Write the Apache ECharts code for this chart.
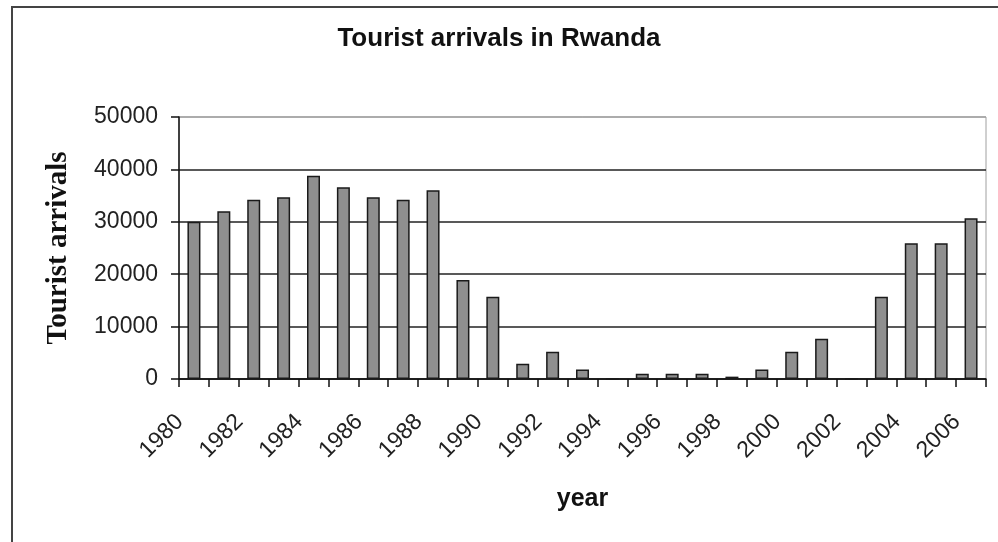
<!DOCTYPE html>
<html>
<head>
<meta charset="utf-8">
<script src="https://cdn.jsdelivr.net/npm/echarts@6/dist/echarts.min.js"></script>
<style>
  html, body { margin: 0; padding: 0; background: #fff; }
  #chart { width: 998px; height: 542px; }
</style>
</head>
<body>
<div id="chart"></div>
<script>
// data
const years = [
  "1980", "1981", "1982", "1983", "1984", "1985", "1986", "1987", "1988",
  "1989", "1990", "1991", "1992", "1993", "1994", "1995", "1996", "1997",
  "1998", "1999", "2000", "2001", "2002", "2003", "2004", "2005", "2006"
];
const arrivals = [
  30000, 32000, 34200, 34700, 38800, 36600, 34700, 34200, 36000,
  18900, 15700, 2900, 5200, 1800, 0, 1000, 1000, 1000,
  450, 1800, 5200, 7700, 0, 15700, 25900, 25900, 30700
];
const yTicks = [0, 10000, 20000, 30000, 40000, 50000];

const mychart = echarts.init(document.getElementById("chart"));

const option = {
  animation: false,
  backgroundColor: "#fff",
  title: {
    text: "Tourist arrivals in Rwanda",
    left: "center",
    top: 21,
    textStyle: {
      fontFamily: "Liberation Sans",
      fontWeight: "bold",
      fontSize: 26,
      color: "#111",
    },
  },
  // frame round the chart, only left and top edges show
  graphic: [
    {
      type: "polyline",
      shape: { points: [[12, 542], [12, 7], [998, 7]] },
      style: { stroke: "#444", lineWidth: 2, fill: null },
    },
  ],
  grid: {
    left: 179,
    right: 12,
    top: 117,
    bottom: 163,
    show: true,
    borderColor: "#a0a0a0",
    borderWidth: 1,
  },
  xAxis: {
    type: "category",
    data: years,
    name: "year",
    nameLocation: "middle",
    nameGap: 108,
    nameTextStyle: {
      fontFamily: "Liberation Sans",
      fontWeight: "bold",
      fontSize: 25,
      color: "#111",
    },
    axisLine: { show: true, lineStyle: { color: "#111", width: 1.5 } },
    axisTick: {
      show: true,
      interval: 0,
      alignWithLabel: false,
      length: 8,
      lineStyle: { color: "#111", width: 1.5 },
    },
    axisLabel: {
      interval: 1,
      rotate: 45,
      margin: 25,
      padding: [0, 20, 0, 0],
      fontFamily: "Liberation Sans",
      fontSize: 23,
      color: "#222",
    },
  },
  yAxis: {
    type: "value",
    min: yTicks[0],
    max: yTicks[yTicks.length - 1],
    interval: yTicks[1] - yTicks[0],
    name: "Tourist arrivals",
    nameLocation: "middle",
    nameRotate: 90,
    nameGap: 106,
    nameTextStyle: {
      fontFamily: "Liberation Serif",
      fontWeight: "bold",
      fontSize: 29,
      color: "#111",
    },
    axisLine: { show: true, lineStyle: { color: "#111", width: 1.5 } },
    axisTick: { show: true, length: 8, lineStyle: { color: "#111", width: 1.5 } },
    axisLabel: {
      margin: 21,
      formatter: (v) => String(v),
      fontFamily: "Liberation Sans",
      fontSize: 23,
      color: "#222",
    },
    splitLine: {
      show: true,
      lineStyle: {
        color: ["#222", "#222", "#222", "#222", "#222", "#a0a0a0"],
        width: 1.5,
      },
    },
  },
  series: [
    {
      name: "Tourist arrivals",
      type: "bar",
      data: arrivals,
      barWidth: 13,
      itemStyle: {
        color: "#8f8f8f",
        borderColor: "#1a1a1a",
        borderWidth: 1.5,
      },
    },
  ],
};
mychart.setOption(option);
</script>
</body>
</html>
